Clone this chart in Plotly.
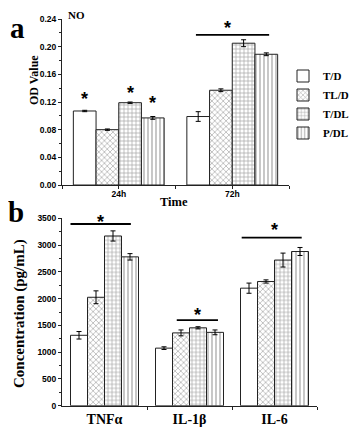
import plotly.graph_objects as go

# ---- data ----
groups = ["T/D", "TL/D", "T/DL", "P/DL"]
patterns = ["", "x", "+", "|"]

times = ["24h", "72h"]
no_vals = {
    "T/D": [0.107, 0.099],
    "TL/D": [0.080, 0.137],
    "T/DL": [0.119, 0.205],
    "P/DL": [0.097, 0.189],
}
no_err = {
    "T/D": [0.001, 0.007],
    "TL/D": [0.001, 0.002],
    "T/DL": [0.001, 0.005],
    "P/DL": [0.002, 0.002],
}

cytokines = ["TNF\u03b1", "IL-1\u03b2", "IL-6"]
cyt_vals = {
    "T/D": [1315, 1075, 2195],
    "TL/D": [2025, 1360, 2320],
    "T/DL": [3170, 1455, 2720],
    "P/DL": [2780, 1370, 2880],
}
cyt_err = {
    "T/D": [70, 25, 95],
    "TL/D": [120, 55, 30],
    "T/DL": [95, 20, 130],
    "P/DL": [60, 45, 75],
}

# significance marks: (x, y) for stars, (x0, x1, y) for bars
a_stars = [(-0.3, 0.128), (0.1, 0.137), (0.3, 0.123), (0.96, 0.231)]
a_lines = [(0.68, 1.325, 0.217)]
b_stars = [(-0.05, 3490), (1.09, 1756), (2.0, 3343)]
b_lines = [(-0.40, 0.31, 3394), (0.85, 1.335, 1600), (1.614, 2.32, 3138)]

SERIF = "Liberation Serif, Times New Roman, serif"
SANS = "Liberation Sans, Arial, sans-serif"

# the page body has an 8px margin, so the figure sits 8px in from the window corner
OFF = 8
W, H = 359 - OFF, 427 - OFF


def fx(x):
    return (x - OFF) / W


def fy(y):
    return 1 - (y - OFF) / H


fig = go.Figure()

for g, pat in zip(groups, patterns):
    marker = dict(color="white", line=dict(color="#222", width=1),
                  pattern=dict(shape=pat, fgcolor="#444", size=4, solidity=0.3))
    fig.add_trace(go.Bar(x=list(range(len(times))), y=no_vals[g], name=g,
                         marker=marker,
                         error_y=dict(type="data", array=no_err[g], color="black",
                                      thickness=1, width=2.5),
                         xaxis="x", yaxis="y"))
    fig.add_trace(go.Bar(x=list(range(len(cytokines))), y=cyt_vals[g], name=g,
                         marker=marker, showlegend=False,
                         error_y=dict(type="data", array=cyt_err[g], color="black",
                                      thickness=1, width=2.5),
                         xaxis="x2", yaxis="y2"))

axis_common = dict(showline=True, linecolor="#222", linewidth=1, showgrid=False,
                   zeroline=False, ticks="outside", tickcolor="#222", ticklen=3,
                   automargin=False,
                   tickfont=dict(family=SANS, size=8.5, color="black", weight="bold"))

star_font = dict(family=SANS, size=18, color="black", weight="bold")
annotations = []
for x, y in a_stars:
    annotations.append(dict(x=x, y=y, xref="x", yref="y", text="*", showarrow=False,
                            font=star_font, yshift=-3))
for x, y in b_stars:
    annotations.append(dict(x=x, y=y, xref="x2", yref="y2", text="*", showarrow=False,
                            font=star_font, yshift=-3))

shapes = []
for x0, x1, y in a_lines:
    shapes.append(dict(type="line", xref="x", yref="y", x0=x0, x1=x1, y0=y, y1=y,
                       line=dict(color="black", width=1.8)))
for x0, x1, y in b_lines:
    shapes.append(dict(type="line", xref="x2", yref="y2", x0=x0, x1=x1, y0=y, y1=y,
                       line=dict(color="black", width=1.8)))


def label(text, x, y, size, angle=0):
    annotations.append(dict(x=fx(x), y=fy(y), xref="paper", yref="paper", text=text,
                            showarrow=False, textangle=angle,
                            xanchor="center", yanchor="middle",
                            font=dict(family=SERIF, size=size, color="black", weight="bold")))


label("a", 17, 28, 29)
label("NO", 76, 15, 11)
label("OD Value", 34, 80, 12, -90)
label("Time", 174, 202, 12.5)
label("b", 16, 212, 29)
label("Concentration (pg/mL)", 19, 314, 15, -90)

fig.update_layout(
    width=W, height=H, margin=dict(l=0, r=0, t=0, b=0),
    paper_bgcolor="white", plot_bgcolor="white",
    barmode="group", bargap=0.2, bargroupgap=0,
    xaxis=dict(axis_common, domain=[fx(62), fx(289)], anchor="y",
               range=[-0.5, 1.5], tickvals=[0, 1], ticktext=times, ticklabelstandoff=-2,
               minor=dict(tickvals=[-0.5, 0.5, 1.5], ticklen=3, tickcolor="#222")),
    yaxis=dict(axis_common, domain=[fy(185), fy(19)], anchor="x",
               range=[0, 0.24], dtick=0.04, tickformat=".2f",
               minor=dict(dtick=0.02, ticklen=2, tickcolor="#222")),
    xaxis2=dict(axis_common, domain=[fx(62), fx(317)], anchor="y2",
                range=[-0.5, 2.5], tickvals=[0, 1, 2], ticktext=cytokines, ticklen=0,
                tickfont=dict(family=SERIF, size=14, color="black", weight="bold"),
                minor=dict(tickvals=[0.5, 1.5, 2.5], ticklen=3, tickcolor="#222")),
    yaxis2=dict(axis_common, domain=[fy(405.7), fy(218.3)], anchor="x2",
                range=[0, 3500], dtick=500,
                minor=dict(dtick=250, ticklen=2, tickcolor="#222")),
    legend=dict(x=fx(283), y=fy(104.5), xanchor="left", yanchor="middle",
                font=dict(family=SERIF, size=11, color="black", weight="bold"),
                bgcolor="rgba(0,0,0,0)", itemwidth=30, tracegroupgap=0),
    annotations=annotations, shapes=shapes,
)

fig.write_html("out.html")
